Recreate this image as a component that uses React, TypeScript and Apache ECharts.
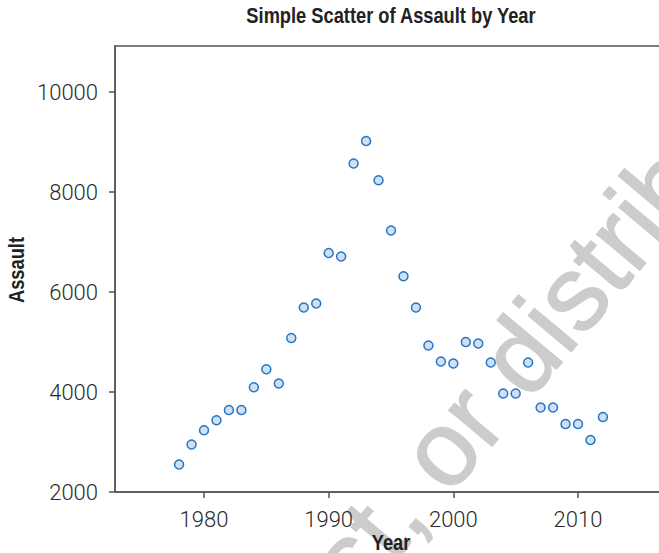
import React, { useEffect, useRef } from "react";
import * as echarts from "echarts";

const years = [
  1978, 1979, 1980, 1981, 1982, 1983, 1984, 1985, 1986, 1987, 1988, 1989,
  1990, 1991, 1992, 1993, 1994, 1995, 1996, 1997, 1998, 1999, 2000, 2001,
  2002, 2003, 2004, 2005, 2006, 2007, 2008, 2009, 2010, 2011, 2012,
];
const assault = [
  2550, 2950, 3235, 3435, 3640, 3640, 4095, 4455, 4170, 5080, 5690, 5770,
  6780, 6710, 8570, 9020, 8235, 7230, 6315, 5690, 4930, 4610, 4570, 5000,
  4970, 4590, 3970, 3970, 4590, 3690, 3690, 3360, 3360, 3040, 3500,
];
const xTickValues = [1980, 1990, 2000, 2010];
const yTickValues = [2000, 4000, 6000, 8000, 10000];
const titleText = "Simple Scatter of Assault by Year";
const xName = "Year";
const yName = "Assault";
const watermarkLead = "Do not copy, post,";
const watermarkTail = "or distribute";

export default function App() {
  const ref = useRef<HTMLDivElement>(null);
  useEffect(() => {
    document.body.style.margin = "0";
    const chart = echarts.init(ref.current!, undefined, { renderer: "svg" });
    const points = years.map((y, i) => [y, assault[i]]);
    const rot = (50 * Math.PI) / 180;
    const wmFont = '106px "Liberation Sans", Arial, sans-serif';
    const boldFont = "bold 21.5px 'Liberation Sans', Arial, sans-serif";
    const axisColor = "#555";
    const labelStyle = {
      fontFamily: "Roboto, 'Liberation Sans', sans-serif",
      fontWeight: 300,
      fontSize: 22,
      color: "#2a2a2a",
      formatter: (v: number) => String(v),
    };
    const wmStyle = {
      textVerticalAlign: "middle",
      font: wmFont,
      fill: "#cccccc",
      stroke: "#cccccc",
      lineWidth: 1.5,
    };
    chart.setOption({
      animation: false,
      backgroundColor: "#ffffff",
      graphic: [
        {
          type: "group",
          x: 421,
          y: 473,
          rotation: rot,
          z: 0,
          silent: true,
          children: [
            {
              type: "text",
              x: -29,
              y: 0,
              style: { ...wmStyle, text: watermarkLead, textAlign: "right" },
            },
            {
              type: "text",
              x: 0,
              y: 0,
              style: { ...wmStyle, text: watermarkTail, textAlign: "left" },
            },
          ],
        },
        {
          type: "text",
          x: 391,
          y: 15.5,
          scaleX: 0.85,
          z: 10,
          style: {
            text: titleText,
            textAlign: "center",
            textVerticalAlign: "middle",
            font: boldFont,
            fill: "#222",
          },
        },
        {
          type: "text",
          x: 391,
          y: 542,
          scaleX: 0.85,
          z: 10,
          style: {
            text: xName,
            textAlign: "center",
            textVerticalAlign: "middle",
            font: boldFont,
            fill: "#222",
          },
        },
        {
          type: "group",
          x: 16.5,
          y: 270,
          rotation: Math.PI / 2,
          z: 10,
          children: [
            {
              type: "text",
              x: 0,
              y: 0,
              scaleX: 0.85,
              style: {
                text: yName,
                textAlign: "center",
                textVerticalAlign: "middle",
                font: boldFont,
                fill: "#222",
              },
            },
          ],
        },
      ],
      grid: {
        left: 115,
        top: 46,
        right: -8,
        bottom: 61,
        outerBoundsMode: "none",
        containLabel: false,
        show: true,
        borderColor: axisColor,
        borderWidth: 1.5,
        backgroundColor: "transparent",
      },
      xAxis: {
        type: "value",
        min: 1972.86,
        max: 2017.14,
        axisLine: { show: true, lineStyle: { color: axisColor, width: 1.5 } },
        axisTick: {
          show: true,
          customValues: xTickValues,
          length: 6,
          lineStyle: { color: axisColor, width: 1.5 },
        },
        axisLabel: { customValues: xTickValues, margin: 16, ...labelStyle },
        splitLine: { show: false },
      },
      yAxis: {
        type: "value",
        min: 2000,
        max: 10920,
        axisLine: { show: true, lineStyle: { color: axisColor, width: 1.5 } },
        axisTick: {
          show: true,
          customValues: yTickValues,
          length: 6,
          lineStyle: { color: axisColor, width: 1.5 },
        },
        axisLabel: { customValues: yTickValues, margin: 17, ...labelStyle },
        splitLine: { show: false },
      },
      series: [
        {
          type: "scatter",
          data: points,
          symbol: "circle",
          symbolSize: 9,
          z: 5,
          itemStyle: {
            color: "#d3dff0",
            borderColor: "#1f78c8",
            borderWidth: 1.5,
            opacity: 1,
          },
        },
      ],
    });
    return () => chart.dispose();
  }, []);
  return (
    <div
      ref={ref}
      style={{ position: "absolute", left: 0, top: 0, width: 659, height: 553 }}
    />
  );
}
